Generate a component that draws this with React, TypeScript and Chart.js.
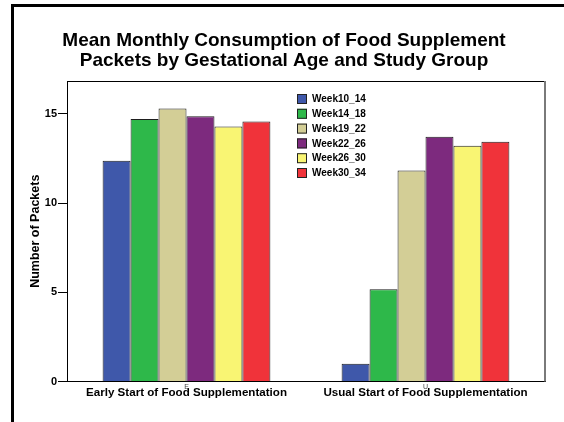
import React, { useEffect, useRef } from "react";
import { Chart, registerables } from "chart.js";

Chart.register(...registerables);

// Study groups along the x axis
const categories = [
  "Early Start of Food Supplementation",
  "Usual Start of Food Supplementation",
];

// Gestational-age windows (one bar per window in each group)
const seriesNames = ["Week10_14", "Week14_18", "Week19_22", "Week22_26", "Week26_30", "Week30_34"];

// Mean packets per month, [early, usual]
const week10_14 = [12.37, 1.0];
const week14_18 = [14.71, 5.17];
const week19_22 = [15.3, 11.82];
const week22_26 = [14.87, 13.71];
const week26_30 = [14.29, 13.21];
const week30_34 = [14.57, 13.43];

const seriesValues = [week10_14, week14_18, week19_22, week22_26, week26_30, week30_34];
const seriesColors = ["#3F58AA", "#2EB84A", "#D3CE96", "#7D2A7E", "#F9F573", "#F0333A"];

const titleLines = [
  "Mean Monthly Consumption of Food Supplement",
  "Packets by Gestational Age and Study Group",
];
const yAxisTitle = "Number of Packets";
const yMax = 16.84;
const yStep = 5;

const FONT = "'Liberation Sans', Arial, Helvetica, sans-serif";

// Outer frame, title, plot frame, in-plot legend and tiny category marks
const decorations = {
  id: "decorations",
  beforeDraw(chart: any) {
    const { ctx, width, height } = chart;
    ctx.save();
    ctx.fillStyle = "#ffffff";
    ctx.fillRect(0, 0, width, height);
    ctx.restore();
  },
  afterDraw(chart: any) {
    const { ctx, chartArea } = chart;
    ctx.save();
    // outer black frame (left and top)
    ctx.fillStyle = "#000000";
    ctx.fillRect(11, 4, 3, 418);
    ctx.fillRect(11, 4, 553, 3);

    // title
    ctx.fillStyle = "#000000";
    ctx.font = `bold 19px ${FONT}`;
    ctx.textAlign = "center";
    ctx.textBaseline = "alphabetic";
    ctx.fillText(titleLines[0], 284, 46);
    ctx.fillText(titleLines[1], 284, 66);

    // plot frame: top line and gray right edge
    ctx.fillStyle = "#000000";
    ctx.fillRect(chartArea.left, chartArea.top, chartArea.right - chartArea.left, 1);
    ctx.fillStyle = "#7a7a7a";
    ctx.fillRect(chartArea.right - 1, chartArea.top, 2, chartArea.bottom - chartArea.top);

    // legend inside the plot area
    const lx = 297;
    const ly = 99;
    const step = 14.8;
    ctx.font = `bold 10px ${FONT}`;
    ctx.textAlign = "left";
    ctx.textBaseline = "middle";
    chart.data.datasets.forEach((ds: any, i: number) => {
      const cy = ly + i * step;
      ctx.fillStyle = ds.backgroundColor;
      ctx.fillRect(lx, cy - 5, 10, 10);
      ctx.strokeStyle = "#222222";
      ctx.lineWidth = 1;
      ctx.strokeRect(lx + 0.5, cy - 4.5, 9, 9);
      ctx.fillStyle = "#000000";
      ctx.fillText(ds.label, lx + 15, cy + 0.5);
    });

    // small initial marks at each category position
    const xScale = chart.scales.x;
    ctx.font = `7px ${FONT}`;
    ctx.fillStyle = "#444444";
    ctx.textAlign = "center";
    ctx.textBaseline = "middle";
    categories.forEach((c, i) => {
      ctx.fillText(c.charAt(0), xScale.getPixelForValue(i), 387);
    });
    ctx.restore();
  },
};

export default function App() {
  const canvasRef = useRef<HTMLCanvasElement | null>(null);

  useEffect(() => {
    if (!canvasRef.current) return;
    const chart = new Chart(canvasRef.current, {
      type: "bar",
      data: {
        labels: categories,
        datasets: seriesNames.map((name, i) => ({
          label: name,
          data: seriesValues[i],
          backgroundColor: seriesColors[i],
          borderColor: "#1e1e1e",
          borderWidth: 1,
          categoryPercentage: 0.702,
          barPercentage: 1.0,
        })),
      },
      options: {
        animation: false,
        responsive: false,
        devicePixelRatio: 1,
        layout: { padding: { top: 81, right: 19, left: 0, bottom: 0 } },
        plugins: {
          legend: { display: false },
          title: { display: false },
          tooltip: { enabled: false },
        },
        scales: {
          x: {
            type: "category",
            offset: true,
            grid: { display: true, drawOnChartArea: false, drawTicks: false },
            border: { display: true, color: "#000000", width: 1 },
            ticks: {
              color: "#000000",
              padding: 4,
              font: { family: FONT, size: 11.6, weight: "bold" },
              maxRotation: 0,
              autoSkip: false,
            },
            afterFit(scale: any) {
              scale.height = 40.5;
            },
          },
          y: {
            type: "linear",
            min: 0,
            max: yMax,
            grid: {
              drawOnChartArea: false,
              drawTicks: true,
              tickLength: 9,
              color: "#000000",
              lineWidth: 1,
            },
            border: { display: true, color: "#000000", width: 1 },
            ticks: {
              stepSize: yStep,
              includeBounds: false,
              color: "#000000",
              padding: 1,
              font: { family: FONT, size: 11, weight: "bold" },
            },
            title: {
              display: true,
              text: yAxisTitle,
              color: "#000000",
              font: { family: FONT, size: 12.5, weight: "bold" },
              padding: { top: 28.5, bottom: 0 },
            },
            afterFit(scale: any) {
              scale.width = 67;
            },
          },
        },
      },
      plugins: [decorations],
    });
    return () => chart.destroy();
  }, []);

  return (
    <div style={{ position: "fixed", left: 0, top: 0, width: 564, height: 422, background: "#fff" }}>
      <canvas ref={canvasRef} width={564} height={422} style={{ width: 564, height: 422, display: "block" }} />
    </div>
  );
}
